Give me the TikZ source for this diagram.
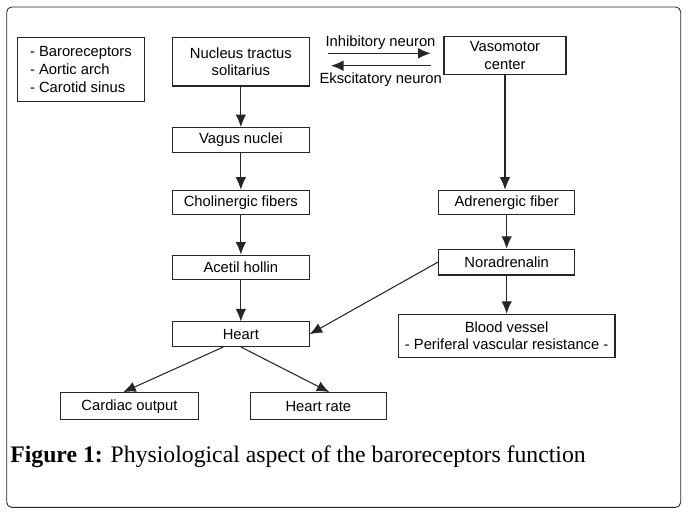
\documentclass[tikz,border=0pt]{standalone}
\usepackage{fontspec}
\setmainfont{Liberation Serif}
\setsansfont{Liberation Sans}
\usetikzlibrary{arrows.meta}

\begin{document}
\begin{tikzpicture}[
    box/.style={draw=black!85,line width=0.6pt,minimum width=2.73cm,minimum height=0.49cm,
      inner sep=0pt,align=center,font=\sffamily\fontsize{8.4}{10}\selectfont},
    arr/.style={draw=black!85,line width=0.6pt,-{Latex[length=2.5mm,width=2.1mm]}}]
      \useasboundingbox (0,0) rectangle (13.76,-10.32);
      \draw[black!85,line width=0.5pt,rounded corners=0.1cm] (0.134,-0.14) rectangle (13.614,-10.146);

      \draw (1.618,-1.39) node (baro) [box,minimum width=2.526cm,minimum height=1.288cm,align=left]
        {- Baroreceptors\\- Aortic arch\\- Carotid sinus};
      \draw (4.817,-1.233) node (nts) [box,minimum height=0.974cm] {Nucleus tractus\\solitarius};
      \draw (10.1,-1.11) node (vaso) [box,minimum width=2.44cm,minimum height=0.752cm] {Vasomotor\\center};
      \draw (4.817,-2.796) node (vagus) [box] {Vagus nuclei};
      \draw (4.817,-4.05) node (chol) [box] {Cholinergic fibers};
      \draw (4.817,-5.346) node (acetil) [box] {Acetil hollin};
      \draw (4.817,-6.684) node (heart) [box] {Heart};
      \draw (10.133,-4.05) node (adren) [box] {Adrenergic fiber};
      \draw (10.133,-5.243) node (nor) [box,minimum height=0.514cm] {Noradrenalin};
      \draw (10.133,-6.716) node (blood) [box,minimum width=4.334cm,minimum height=0.86cm]
        {Blood vessel\\- Periferal vascular resistance -};
      \draw (2.59,-8.126) node (cardiac) [box,minimum width=2.75cm,minimum height=0.546cm] {Cardiac output};
      \draw (6.367,-8.126) node (hrate) [box,minimum height=0.546cm] {Heart rate};

      \coordinate (inhA) at (6.56,-1.066);
      \coordinate (inhB) at (8.614,-1.066);
      \coordinate (excA) at (8.614,-1.314);
      \coordinate (excB) at (6.62,-1.314);
      \draw[arr] (inhA) -- (inhB);
      \draw[arr] (excA) -- (excB);
      \draw (7.61,-0.846) node (inh) [font=\sffamily\fontsize{8.4}{10}\selectfont] {Inhibitory neuron};
      \draw (7.614,-1.586) node (exc) [font=\sffamily\fontsize{8.4}{10}\selectfont] {Ekscitatory neuron};

      \draw[arr] (nts) -- (vagus);
      \draw[arr] (vagus) -- (chol);
      \draw[arr] (chol) -- (acetil);
      \draw[arr] (acetil) -- (heart);
      \draw[arr] (vaso.south) -- (vaso.south |- adren.north);
      \draw[arr] (adren) -- (nor);
      \draw[arr] (nor) -- (blood);
      \draw[arr] (nor.west) -- (heart.east);
      \draw[arr] ([xshift=-0.35cm]heart.south) -- ([xshift=-0.125cm]cardiac.north);
      \draw[arr] (heart.south) -- ([xshift=0.22cm]hrate.north);

      \draw (0.2,-9.254) node (cap) [anchor=base west,inner sep=0pt,font=\fontsize{13.5}{16}\selectfont]
        {\textbf{Figure 1:} Physiological aspect of the baroreceptors function};
    \end{tikzpicture}
\end{document}
